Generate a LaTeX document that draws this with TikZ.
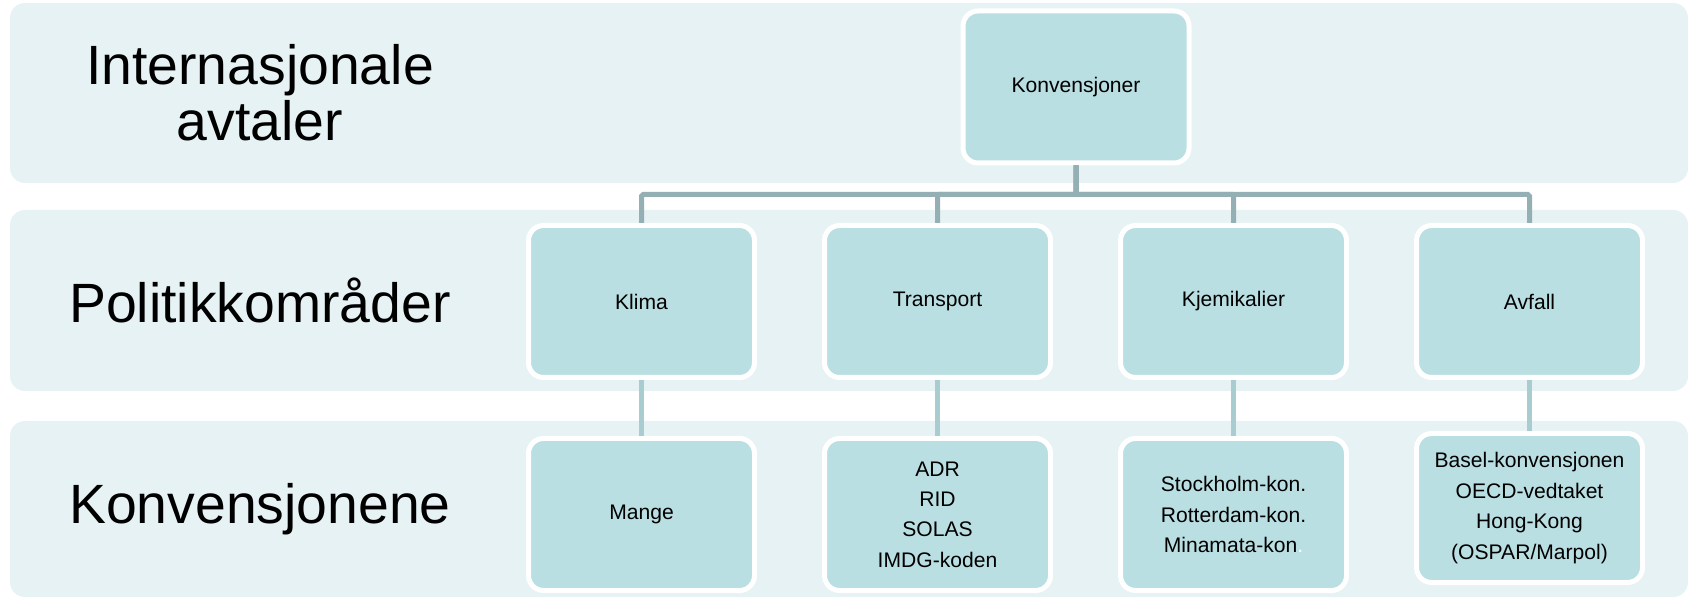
\documentclass[tikz,border=0pt]{standalone}
\usepackage{fontspec}
\setmainfont{Liberation Sans}
\usepackage{tikz}
\usetikzlibrary{calc, positioning}

\definecolor{bandfill}{RGB}{230,242,244}
\definecolor{boxfill}{RGB}{186,223,226}
\definecolor{linkdark}{RGB}{148,176,180}
\definecolor{linklight}{RGB}{168,204,208}

\begin{document}
\begin{tikzpicture}[-,auto,node distance=1.3cm,
                    main node/.style={rectangle,rounded corners=0.3cm,fill=boxfill,draw=white,line width=0.1cm,
                                      minimum width=4.52cm,minimum height=3.04cm,align=center,
                                      font=\fontsize{12}{17.3}\selectfont},
                    band/.style={fill=bandfill,rounded corners=0.3cm},
                    band label/.style={align=center,font=\fontsize{31.5}{31.7}\selectfont},
                    upper link/.style={draw=linkdark,line width=0.1cm,rounded corners=1pt},
                    lower link/.style={draw=linklight,line width=0.1cm}]
\useasboundingbox (0,0) rectangle (33.9,11.98);

\foreach \lo/\hi in {8.32/11.92, 4.16/7.78, 0.04/3.56}
   {\fill[band] (0.2,\lo) rectangle (33.76,\hi);}

\node[band label] (AvtalerLabel) at (5.2,10.12) {Internasjonale\\avtaler};
\node[band label] (OmraderLabel) at (5.2,5.98) {Politikkområder};
\node[band label] (KonLabel) at (5.2,1.8) {Konvensjonene};

\node[main node] (Konvensjoner) at (21.52,10.24) {Konvensjoner};

\node[main node] (Klima) at (12.83,5.95) {Klima};
\node[main node] (Transport) [right=of Klima] {Transport};
\node[main node] (Kjemikalier) [right=of Transport] {Kjemikalier};
\node[main node] (Avfall) [right=of Kjemikalier] {Avfall};

\node[main node] (KlimaKon) [below=1.12cm of Klima] {Mange};
\node[main node] (TransportKon) [below=1.12cm of Transport] {ADR\\RID\\SOLAS\\IMDG-koden};
\node[main node] (KjemikalierKon) [below=1.12cm of Kjemikalier] {Stockholm-kon.\\Rotterdam-kon.\\Minamata-kon{\color{white}.}};
\node[main node,minimum height=2.98cm] (AvfallKon) [below=1.02cm of Avfall] {Basel-konvensjonen\\OECD-vedtaket\\Hong-Kong\\(OSPAR/Marpol)};

\coordinate (BusLevel) at (0,8.09);
\foreach \n in {Klima,Transport,Kjemikalier,Avfall}
  {\draw[upper link] (Konvensjoner.south) -- (Konvensjoner.south |- BusLevel) -| (\n.north);
   \draw[lower link] (\n.south) -- (\n Kon.north);}

\end{tikzpicture}
\end{document}
